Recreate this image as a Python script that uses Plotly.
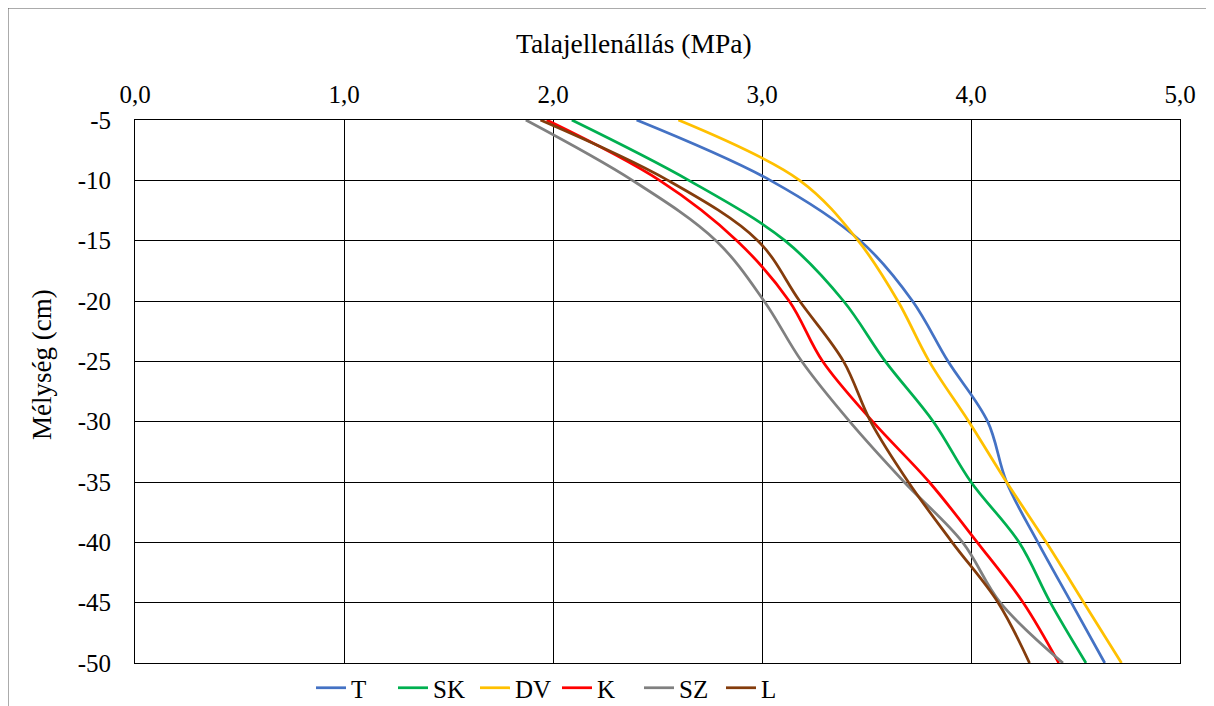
import plotly.graph_objects as go

depth = [-5, -10, -15, -20, -25, -30, -35, -40, -45, -50]
T  = [2.40, 3.04, 3.47, 3.72, 3.89, 4.08, 4.17, 4.32, 4.48, 4.64]
SK = [2.09, 2.65, 3.11, 3.39, 3.59, 3.82, 4.00, 4.23, 4.38, 4.55]
DV = [2.60, 3.18, 3.46, 3.65, 3.80, 3.99, 4.17, 4.36, 4.54, 4.72]
K  = [1.97, 2.51, 2.88, 3.13, 3.29, 3.53, 3.80, 4.03, 4.25, 4.42]
SZ = [1.87, 2.38, 2.78, 3.01, 3.19, 3.42, 3.68, 3.96, 4.14, 4.44]
L  = [1.94, 2.55, 2.98, 3.18, 3.39, 3.52, 3.70, 3.91, 4.13, 4.28]

series = [("T", T, "#4472C4"), ("SK", SK, "#00B050"), ("DV", DV, "#FFC000"),
          ("K", K, "#FF0000"), ("SZ", SZ, "#808080"), ("L", L, "#843C0C")]

x_ticks = [0, 1, 2, 3, 4, 5]
y_ticks = [-5, -10, -15, -20, -25, -30, -35, -40, -45, -50]
y_ticktext = [str(v) for v in y_ticks]
x_title = "Talajellenállás (MPa)"
y_title = "Mélység (cm)"

FONT = "Liberation Serif"

fig = go.Figure()
for name, vals, col in series:
    fig.add_trace(go.Scatter(x=vals, y=depth, name=name, mode="lines",
                             line=dict(color=col, width=2.75, shape="spline", smoothing=1.0)))

# page is offset by the 8px body margin
W, H = 1214, 706
pw, ph = 1045, 543
l, t = 127, 112
r, b = W - l - pw, H - t - ph

fig.update_layout(
    width=W, height=H,
    margin=dict(l=l, r=r, t=t, b=b, autoexpand=False),
    paper_bgcolor="white", plot_bgcolor="white",
    separators=",.",
    font=dict(family=FONT, size=25, color="black"),
    showlegend=True,
    legend=dict(orientation="h", x=(303 - l) / pw, xanchor="left",
                y=(t + ph - 680) / ph, yanchor="middle",
                font=dict(family=FONT, size=25), itemwidth=30, entrywidth=37,
                tracegroupgap=0, bgcolor="rgba(0,0,0,0)"),
    xaxis=dict(side="top", range=[0, 5], tickvals=x_ticks, tickformat=".1f",
               showgrid=True, gridcolor="black", gridwidth=1,
               showline=True, linecolor="black", linewidth=1, mirror=True,
               zeroline=False, ticks="", ticklabelstandoff=6, automargin=False),
    yaxis=dict(range=[-50, -5], tickvals=y_ticks, ticktext=y_ticktext,
               showgrid=True, gridcolor="black", gridwidth=1,
               showline=True, linecolor="black", linewidth=1, mirror=True,
               zeroline=False, ticks="", ticklabelstandoff=18, automargin=False),
    annotations=[
        dict(text=x_title, xref="paper", yref="paper", x=(626 - l) / pw, y=1 + (t - 35) / ph,
             xanchor="center", yanchor="middle", showarrow=False,
             font=dict(family=FONT, size=27.5, color="black")),
        dict(text=y_title, xref="paper", yref="paper", x=(34 - l) / pw, y=(t + ph - 357) / ph,
             xanchor="center", yanchor="middle", showarrow=False, textangle=-90,
             font=dict(family=FONT, size=27, color="black")),
    ],
    shapes=[dict(type="rect", xref="paper", yref="paper",
                 x0=(0 - l) / pw, x1=(W + 20 - l) / pw,
                 y0=-(H + 20 - (t + ph)) / ph, y1=1 + t / ph,
                 line=dict(color="#595959", width=1), layer="below")],
)

fig.write_html("out.html")
